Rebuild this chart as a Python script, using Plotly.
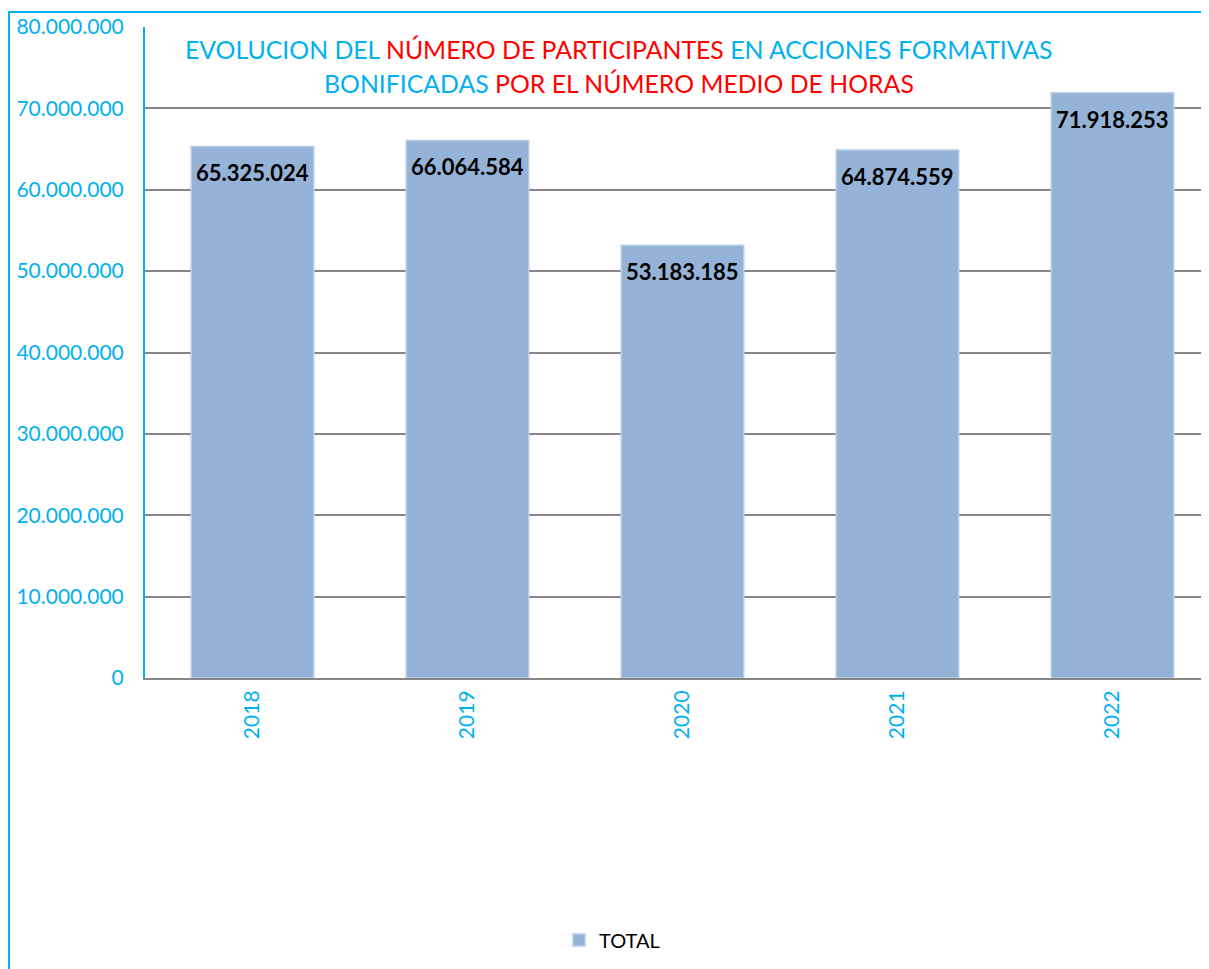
import plotly.graph_objects as go

years = ["2018", "2019", "2020", "2021", "2022"]
totals = [65325024, 66064584, 53183185, 64874559, 71918253]
y_ticks = [0, 10000000, 20000000, 30000000, 40000000, 50000000, 60000000, 70000000, 80000000]

CYAN = "#00B0F0"
RED = "#FF0000"
FONT = "Lato, 'Open Sans', sans-serif"

# page body has an 8px margin, so the figure starts at (8, 8)
OFF = 8
W, H = 1209 - OFF, 969 - OFF
L, R, T, B = 145, 1209, 27, 678  # plot area in window pixels


def px_x(px):
    return (px - L) / (R - L)


def px_y(py):
    return (B - py) / (B - T)


def dotted(v):
    return f"{v:,}".replace(",", ".")


fig = go.Figure()
fig.add_trace(
    go.Bar(
        x=years, y=totals, name="TOTAL",
        marker=dict(color="#95B3D7", line=dict(color="#B9CDE5", width=1.5)),
        hoverinfo="x+y",
    )
)

# data labels: category index on the x axis
for i, v in enumerate(totals):
    fig.add_annotation(
        x=i, y=v, xref="x", yref="y", text=f"<b>{dotted(v)}</b>", showarrow=False,
        yanchor="top", yshift=-11,
        font=dict(family=FONT, size=22, color="black"),
    )

line1 = (
    f"<span style='color:{CYAN}'>EVOLUCION DEL </span>"
    f"<span style='color:{RED}'>NÚMERO DE PARTICIPANTES</span>"
    f"<span style='color:{CYAN}'> EN ACCIONES FORMATIVAS</span>"
)
line2 = (
    f"<span style='color:{CYAN}'>BONIFICADAS </span>"
    f"<span style='color:{RED}'>POR EL NÚMERO MEDIO DE HORAS</span>"
)
for txt, yc in ((line1, 49), (line2, 84)):
    fig.add_annotation(
        xref="paper", yref="paper", x=px_x(619), y=px_y(yc),
        text=txt, showarrow=False, xanchor="center", yanchor="middle",
        font=dict(family=FONT, size=24.8, color=CYAN),
    )

# outer chart border
fig.add_shape(
    type="rect", xref="paper", yref="paper",
    x0=px_x(9), x1=px_x(1230), y0=px_y(1000), y1=px_y(12),
    line=dict(color=CYAN, width=2), layer="below",
)

fig.update_layout(
    width=W, height=H,
    margin=dict(l=L - OFF, r=0, t=T - OFF, b=969 - B),
    plot_bgcolor="white", paper_bgcolor="white",
    separators=",.",
    bargap=0.43,
    showlegend=True,
    legend=dict(
        orientation="h", x=px_x(612), y=px_y(940), xanchor="center", yanchor="middle",
        font=dict(family=FONT, size=20, color="black"),
    ),
    font=dict(family=FONT),
    xaxis=dict(
        type="category",
        range=[-0.5, 4.449],
        showline=True, linecolor="#868686", linewidth=2,
        tickangle=-90, ticks="", ticklabelstandoff=2,
        tickfont=dict(family=FONT, size=21, color=CYAN),
        showgrid=False,
    ),
    yaxis=dict(
        range=[0, 80000000], tickvals=y_ticks, tickformat=",d",
        showline=True, linecolor=CYAN, linewidth=2,
        showgrid=True, gridcolor="#868686", gridwidth=1.5,
        zeroline=False, ticks="", ticklabelstandoff=15,
        tickfont=dict(family=FONT, size=21, color=CYAN),
    ),
)

fig.write_html("out.html")
